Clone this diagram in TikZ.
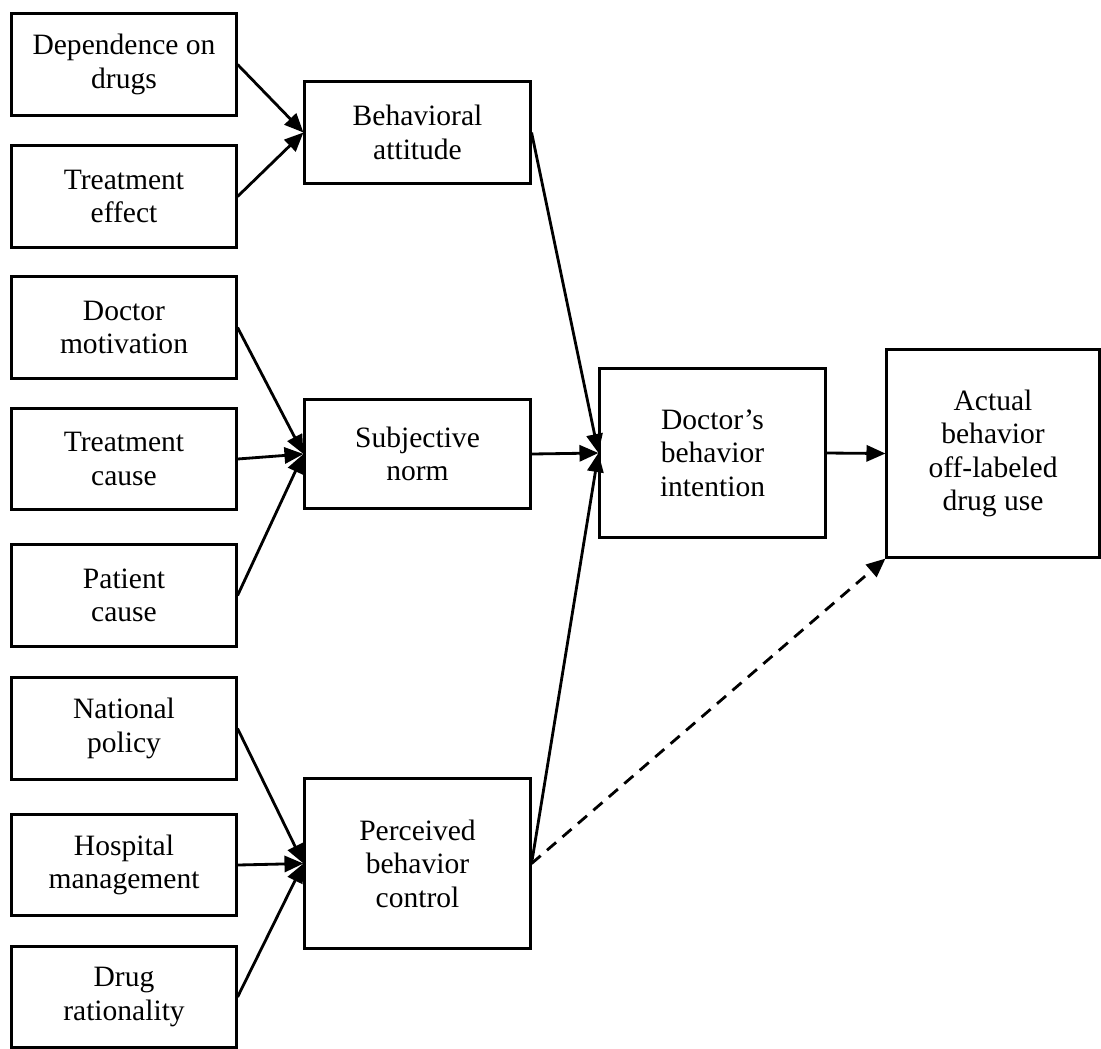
\documentclass[tikz,border=0pt]{standalone}
\usepackage{fontspec}
\setmainfont{Liberation Serif}
\usetikzlibrary{arrows.meta}
\begin{document}
\begin{tikzpicture}[x=0.01cm,y=-0.01cm,
  box/.style={draw,line width=0.85pt,align=center,inner sep=0pt,
    font=\fontsize{8.4pt}{9.5pt}\selectfont},
  lbox/.style={box,minimum width=2.24cm,minimum height=1.01cm},
  mbox/.style={box,minimum width=2.25cm},
  conn/.style={line width=0.8pt,-{Triangle[length=5.4pt,width=4.6pt]}},
  dconn/.style={conn,dash pattern=on 3.4pt off 2.4pt}]
\useasboundingbox (0,0) rectangle (1101,1048);
% left column
\node[lbox] (dep) at (124,64.5) {Dependence on\\drugs};
\node[lbox] (eff) at (124,196.5) {Treatment\\effect};
\node[lbox] (mot) at (124,327.5) {Doctor\\motivation};
\node[lbox] (cau) at (124,459) {Treatment\\cause};
\node[lbox] (pat) at (124,595.5) {Patient\\cause};
\node[lbox] (nat) at (124,728.5) {National\\policy};
\node[lbox] (hos) at (124,865) {Hospital\\management};
\node[lbox] (dru) at (124,997) {Drug\\rationality};
% middle column
\node[mbox,minimum height=1.01cm] (att) at (417.5,132.5) {Behavioral\\attitude};
\node[mbox,minimum height=1.08cm] (sub) at (417.5,454) {Subjective\\norm};
\node[mbox,minimum height=1.69cm] (per) at (417.5,863.5) {Perceived\\behavior\\control};
% right
\node[mbox,minimum height=1.68cm] (doc) at (712.5,453) {Doctor’s\\behavior\\intention};
\node[box,minimum width=2.12cm,minimum height=2.07cm] (act) at (993,453.5) {Actual\\behavior\\off-labeled\\drug use};
% connectors
\draw[conn] (dep.east) -- (att.west);
\draw[conn] (eff.east) -- (att.west);
\draw[conn] (mot.east) -- (sub.west);
\draw[conn] (cau.east) -- (sub.west);
\draw[conn] (pat.east) -- (sub.west);
\draw[conn] (nat.east) -- (per.west);
\draw[conn] (hos.east) -- (per.west);
\draw[conn] (dru.east) -- (per.west);
\draw[conn] (att.east) -- (doc.west);
\draw[conn] (sub.east) -- (doc.west);
\draw[conn] (per.east) -- (doc.west);
\draw[conn] (doc.east) -- (act.west);
\draw[dconn] (per.east) -- (act.south west);
\end{tikzpicture}
\end{document}
